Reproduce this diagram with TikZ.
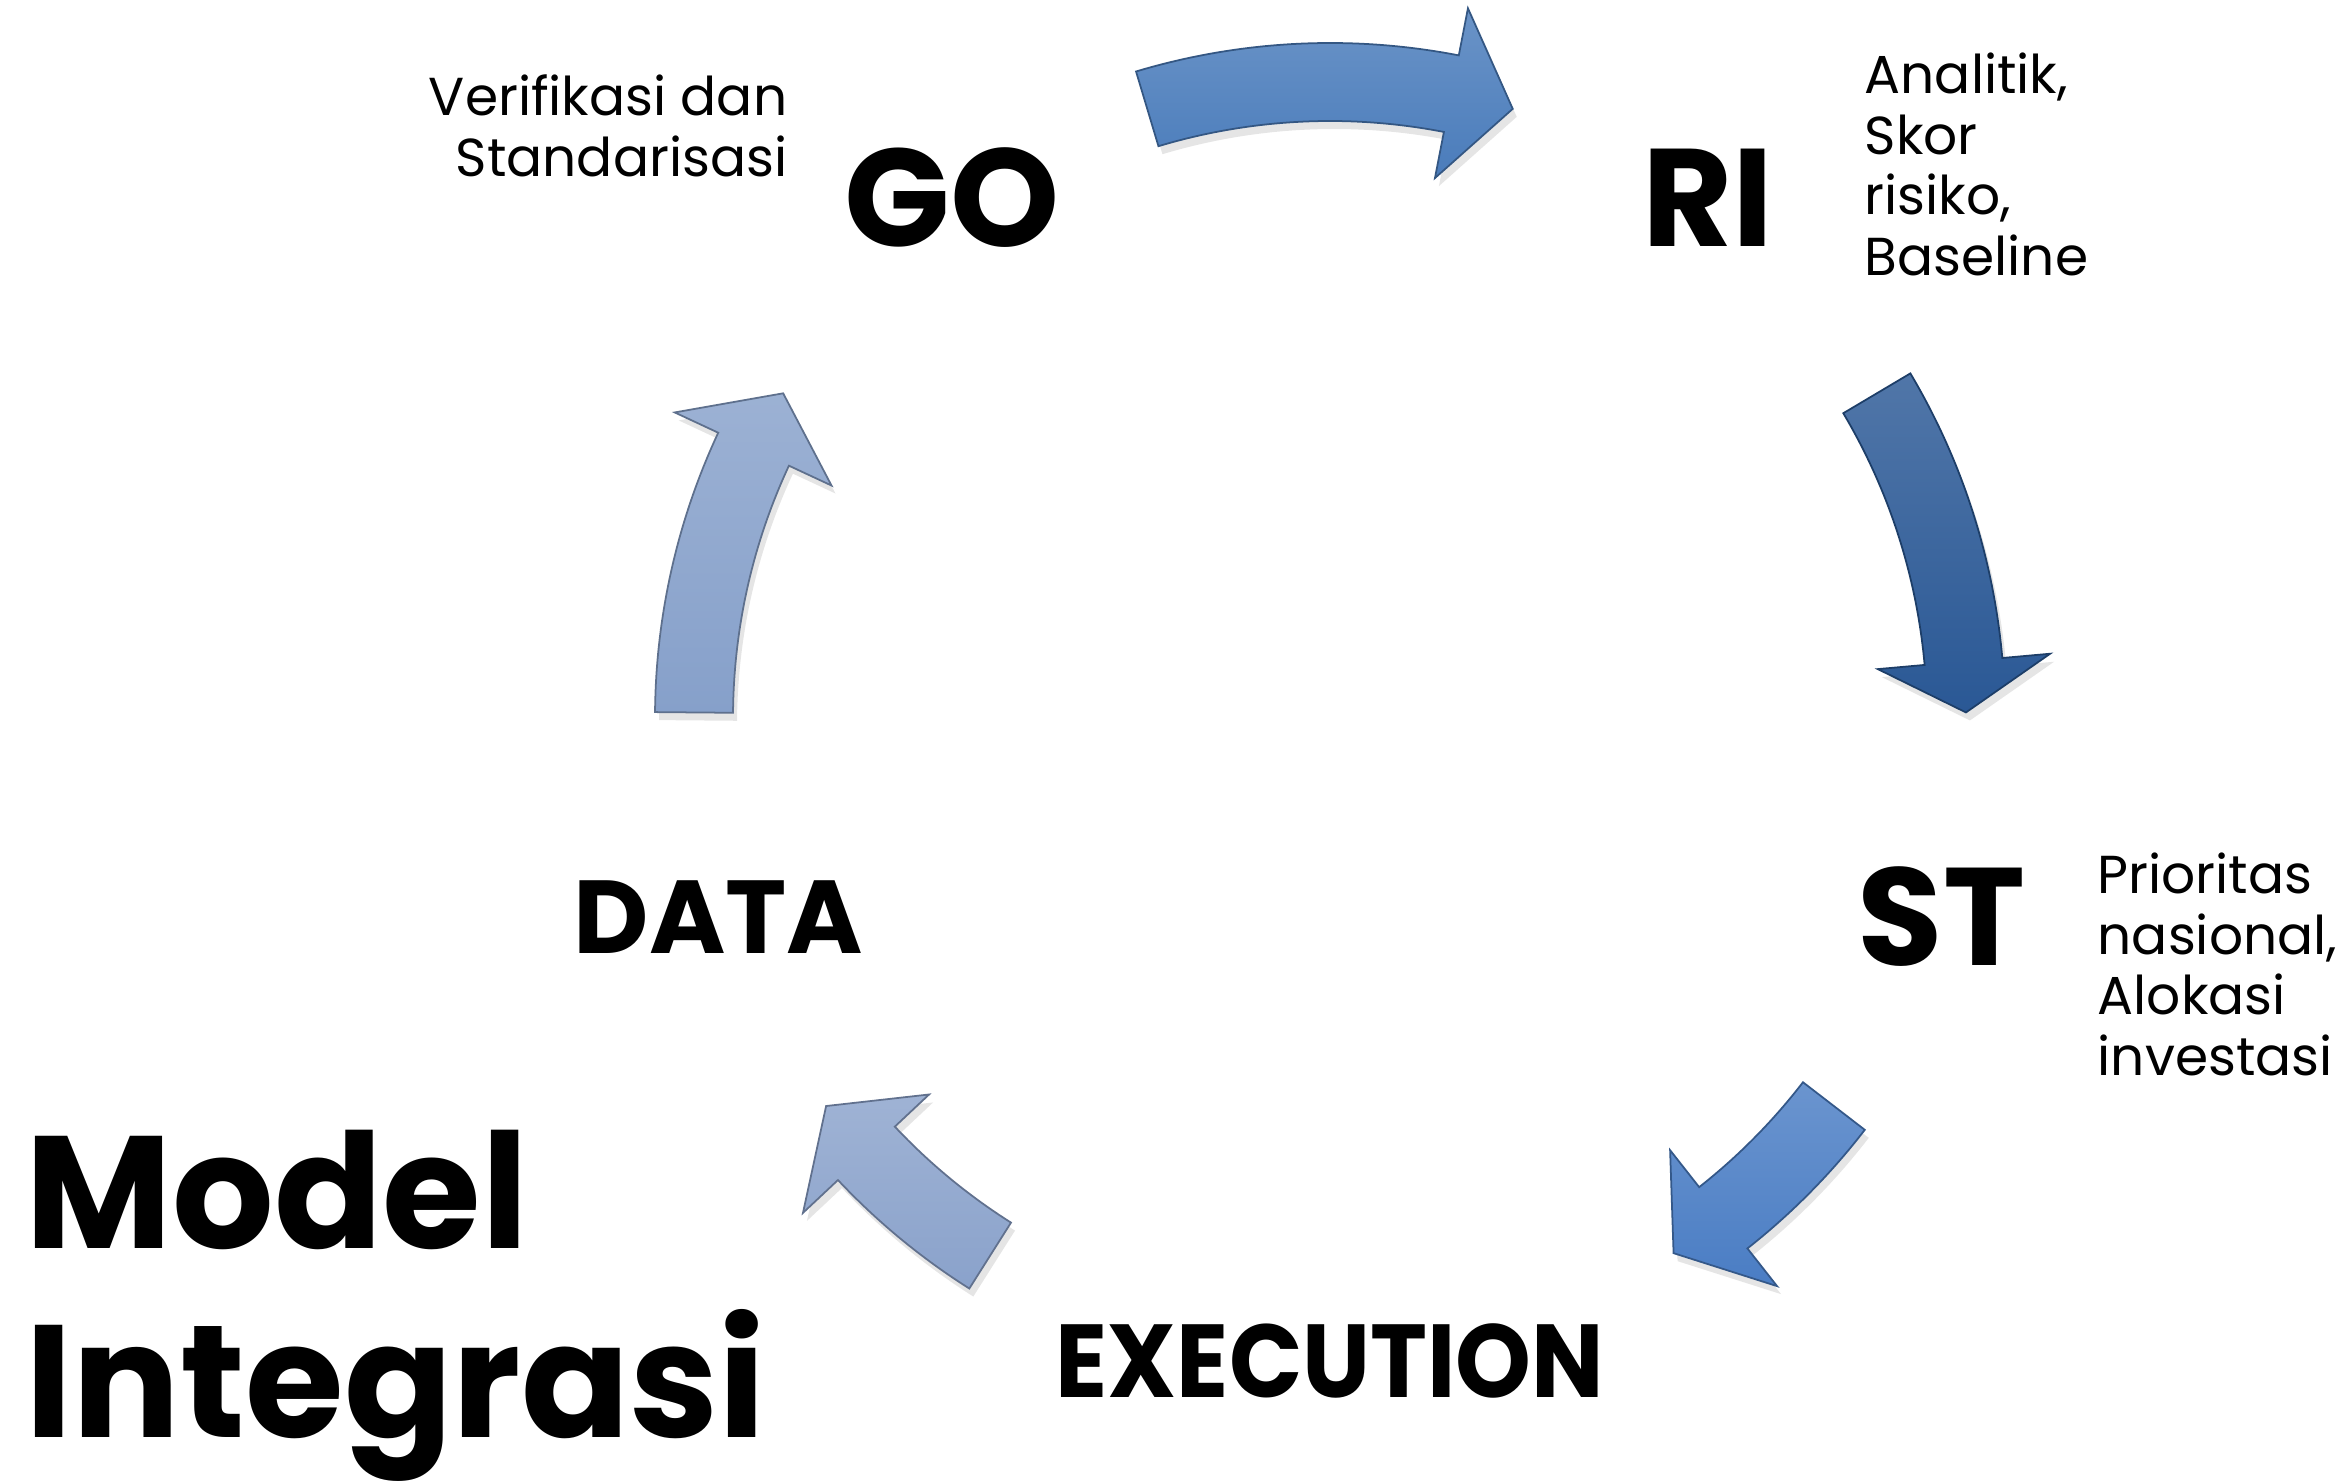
\documentclass[tikz,border=0pt]{standalone}
\usepackage{fontspec}
\setmainfont{Poppins}
\usetikzlibrary{shadows}
\definecolor{arTop}{HTML}{4A7CBB}
\definecolor{arRight}{HTML}{2A5895}
\definecolor{arLowR}{HTML}{4A7DC4}
\definecolor{arLowL}{HTML}{8AA2CB}
\definecolor{arLeft}{HTML}{86A0CA}
\begin{document}
\begin{tikzpicture}[
	stage/.style={inner sep=0pt, font=\fontsize{39.5}{41}\selectfont\bfseries},
	stagesm/.style={inner sep=0pt, font=\fontsize{29.5}{31}\selectfont\bfseries},
	note/.style={inner sep=0pt, font=\fontsize{15.2}{17.3}\selectfont},
	blk/.style={draw=#1!70!black, line width=0.5pt, top color=#1!82!white, bottom color=#1, drop shadow={shadow xshift=0.4mm, shadow yshift=-0.8mm, opacity=0.2}}]
		\fill[white] (-13.30,-7.66) rectangle (10.14,7.18);
		\useasboundingbox (-13.30,-7.66) rectangle (10.14,7.18);
		\draw[blk=arTop] (106.7:6.75) arc[start angle=106.7, end angle=79, radius=6.75] -- (79:7.23) -- (73.3:6.36) -- (79:5.50) -- (79:5.97) arc[start angle=79, end angle=106.7, radius=5.97] -- cycle;
		\draw[blk=arRight] (30.7:6.75) arc[start angle=30.7, end angle=5.1, radius=6.75] -- (5.1:7.23) -- (0.5:6.36) -- (5.1:5.50) -- (5.1:5.97) arc[start angle=5.1, end angle=30.7, radius=5.97] -- cycle;
		\draw[blk=arLowR] (-37.6:6.75) arc[start angle=-37.6, end angle=-51.8, radius=6.75] -- (-51.8:7.23) -- (-57.3:6.36) -- (-51.8:5.50) -- (-51.8:5.97) arc[start angle=-51.8, end angle=-37.6, radius=5.97] -- cycle;
		\draw[blk=arLowL] (237.7:6.75) arc[start angle=237.7, end angle=223.2, radius=6.75] -- (223.2:7.23) -- (217.6:6.36) -- (223.2:5.50) -- (223.2:5.97) arc[start angle=223.2, end angle=237.7, radius=5.97] -- cycle;
		\draw[blk=arLeft] (179.5:6.75) arc[start angle=179.5, end angle=155, radius=6.75] -- (155:7.23) -- (149.3:6.36) -- (155:5.50) -- (155:5.97) arc[start angle=155, end angle=179.5, radius=5.97] -- cycle;
		\node[stage] (go) at (126:6.43) {GO};
		\node[stage] (ri) at (54:6.43) {RI};
		\node[stage] (st) at (-18:6.43) {ST};
		\node[stagesm, xscale=0.93, transform shape] (exec) at (-90:6.43) {EXECUTION};
		\node[stagesm] (data) at (198:6.43) {DATA};
		\node[note, anchor=north east, align=right] (goNote) at (-5.42,6.44) {Verifikasi dan\\Standarisasi};
		\node[note, anchor=north west, align=left] (riNote) at (5.34,6.66) {Analitik,\\Skor\\risiko,\\Baseline};
		\node[note, anchor=north west, align=left] (stNote) at (7.67,-1.34) {Prioritas\\nasional,\\Alokasi\\investasi};
		\node[anchor=north west, align=left, inner sep=0pt, font=\fontsize{45.5}{54}\selectfont\bfseries] (title) at (-13.05,-4.11) {Model\\Integrasi};
\end{tikzpicture}
\end{document}
